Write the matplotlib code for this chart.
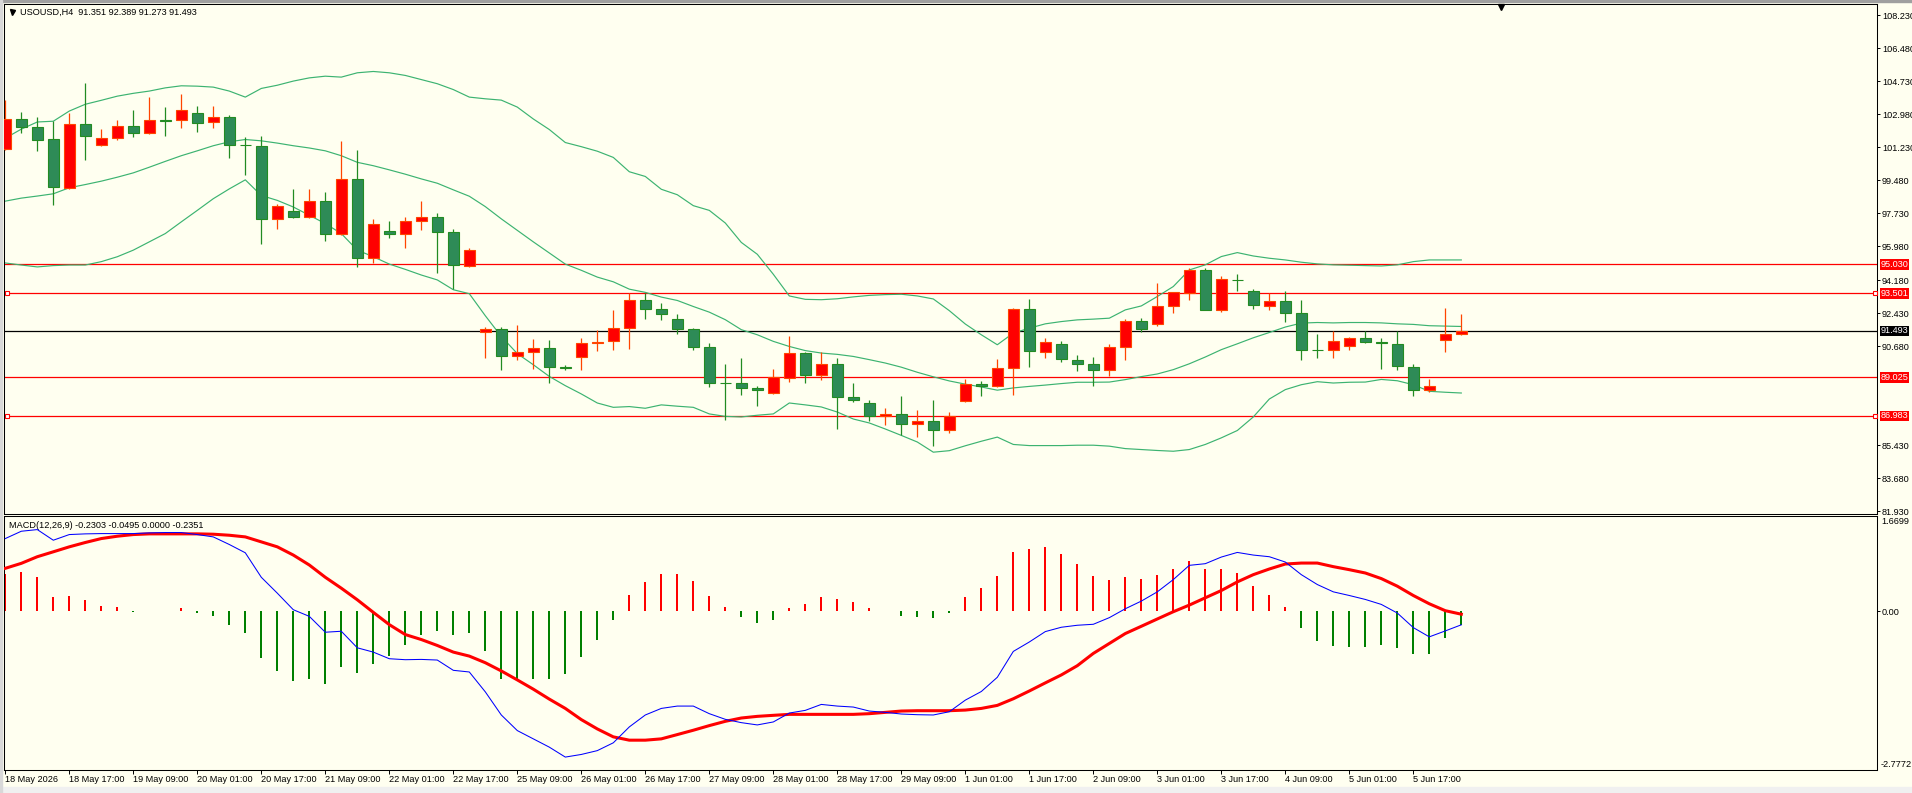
"""USOUSD H4 chart with Bollinger Bands and MACD, drawn in MetaTrader style."""

import matplotlib
matplotlib.use('Agg')
import matplotlib.pyplot as plt
from matplotlib.patches import Rectangle
from matplotlib.transforms import blended_transform_factory

# H4 bars, index 0 = 18 May 2026 01:00
opens = [101.14, 102.72, 102.30, 101.67, 99.07, 102.46, 101.35, 101.72, 102.36, 101.99,
         102.67, 102.67, 103.04, 102.57, 102.83, 101.37, 101.30, 97.43, 97.87, 97.54,
         98.40, 96.64, 99.53, 95.38, 96.82, 96.66, 97.35, 97.52, 96.75, 94.95,
         91.43, 91.59, 90.16, 90.37, 90.59, 89.58, 90.11, 90.85, 90.96, 91.63,
         93.13, 92.65, 92.12, 91.59, 90.64, 88.75, 88.73, 88.48, 88.20, 88.98,
         90.32, 89.14, 89.74, 88.01, 87.67, 87.00, 87.10, 86.56, 86.72, 86.22,
         87.78, 88.68, 88.55, 89.53, 92.65, 90.35, 90.79, 89.95, 89.74, 89.40,
         90.64, 92.01, 91.85, 92.81, 93.53, 94.71, 92.63, 94.22, 93.60, 92.79,
         93.07, 92.44, 90.50, 90.46, 90.72, 91.11, 90.90, 90.79, 89.59, 88.36,
         91.01, 91.351]
highs = [103.73, 103.11, 102.85, 102.64, 103.08, 104.64, 102.20, 102.69, 103.22, 103.90,
         103.37, 104.06, 103.43, 103.43, 102.95, 101.78, 101.83, 98.24, 99.00, 99.00,
         98.88, 101.58, 101.11, 97.45, 97.31, 97.54, 98.37, 97.77, 96.90, 95.90,
         91.70, 91.70, 91.82, 91.08, 91.03, 89.69, 91.13, 91.56, 92.62, 93.50,
         93.50, 92.99, 92.39, 91.65, 90.85, 89.76, 90.07, 88.57, 89.49, 91.24,
         90.37, 90.39, 90.06, 88.75, 87.83, 87.42, 88.06, 87.32, 87.85, 87.21,
         88.96, 88.86, 90.02, 92.70, 93.19, 91.13, 90.97, 90.23, 90.12, 90.80,
         92.14, 92.19, 94.04, 93.58, 94.82, 94.82, 94.40, 94.52, 93.72, 93.48,
         93.62, 93.14, 91.34, 91.50, 91.15, 91.50, 91.13, 91.50, 89.75, 88.96,
         92.72, 92.389]
lows = [101.09, 101.97, 101.02, 98.15, 99.03, 100.56, 101.28, 101.62, 101.76, 101.93,
        101.81, 102.28, 102.07, 102.28, 100.65, 99.79, 96.12, 96.89, 97.49, 97.49,
        96.26, 96.60, 94.90, 95.10, 96.41, 95.89, 96.84, 94.55, 93.70, 94.90,
        90.04, 89.40, 89.97, 89.49, 88.71, 89.40, 89.44, 90.41, 90.46, 90.52,
        92.11, 92.05, 91.33, 90.48, 88.52, 86.77, 88.08, 87.50, 88.15, 88.77,
        88.71, 88.87, 86.28, 87.71, 86.70, 86.49, 85.96, 85.85, 85.38, 86.06,
        87.70, 88.03, 88.50, 88.08, 89.56, 90.04, 89.82, 89.35, 88.55, 89.08,
        89.93, 91.43, 91.73, 92.47, 93.14, 92.60, 92.52, 93.62, 92.67, 92.61,
        91.98, 89.97, 90.07, 90.07, 90.46, 90.85, 89.45, 89.40, 88.02, 88.24,
        90.35, 91.273]
closes = [102.72, 102.29, 101.65, 99.12, 102.46, 101.81, 101.72, 102.36, 101.99, 102.67,
          102.65, 103.20, 102.55, 102.83, 101.34, 101.34, 97.43, 98.10, 97.54, 98.40,
          96.64, 99.58, 95.38, 97.19, 96.64, 97.35, 97.52, 96.75, 95.00, 95.80,
          91.59, 90.14, 90.39, 90.59, 89.56, 89.53, 90.85, 90.92, 91.65, 93.13,
          92.65, 92.39, 91.58, 90.62, 88.73, 88.71, 88.47, 88.36, 89.03, 90.32,
          89.14, 89.74, 87.97, 87.81, 87.00, 87.09, 86.56, 86.72, 86.22, 86.97,
          88.68, 88.55, 89.54, 92.65, 90.41, 90.90, 90.00, 89.72, 89.40, 90.64,
          92.01, 91.62, 92.81, 93.55, 94.71, 92.63, 94.24, 94.18, 92.86, 93.07,
          92.42, 90.46, 90.46, 90.97, 91.11, 90.88, 90.85, 89.61, 88.36, 88.57,
          91.32, 91.493]

# Bollinger Bands
bb_upper = [101.72, 102.20, 102.58, 102.62, 103.16, 103.52, 103.73, 103.95, 104.10, 104.22,
            104.39, 104.50, 104.48, 104.43, 104.22, 103.90, 104.36, 104.53, 104.75, 104.92,
            105.01, 104.96, 105.19, 105.26, 105.19, 105.05, 104.83, 104.61, 104.30, 103.90,
            103.81, 103.74, 103.37, 102.74, 102.18, 101.49, 101.27, 101.03, 100.70, 99.94,
            99.69, 99.01, 98.72, 98.14, 97.89, 97.22, 96.19, 95.56, 94.50, 93.35,
            93.17, 93.15, 93.20, 93.30, 93.38, 93.42, 93.44, 93.35, 93.19, 92.57,
            91.86, 91.29, 90.76, 91.38, 91.64, 91.87, 91.99, 92.08, 92.12, 92.17,
            92.61, 92.82, 93.32, 93.85, 94.73, 95.00, 95.44, 95.65, 95.47, 95.35,
            95.26, 95.14, 95.05, 95.00, 94.98, 94.96, 94.94, 95.00, 95.17, 95.26,
            95.26, 95.26]
bb_middle = [98.38, 98.54, 98.65, 98.77, 99.09, 99.26, 99.44, 99.65, 99.88, 100.18,
             100.49, 100.79, 101.05, 101.32, 101.53, 101.65, 101.58, 101.46, 101.32, 101.20,
             101.05, 100.79, 100.44, 100.26, 100.04, 99.81, 99.56, 99.33, 98.98, 98.64,
             98.09, 97.44, 96.83, 96.22, 95.63, 95.04, 94.71, 94.35, 94.10, 93.71,
             93.54, 93.29, 93.11, 92.79, 92.49, 92.09, 91.56, 91.29, 90.94, 90.67,
             90.45, 90.32, 90.25, 90.14, 89.97, 89.79, 89.57, 89.30, 89.06, 88.84,
             88.67, 88.52, 88.35, 88.47, 88.55, 88.62, 88.70, 88.77, 88.77, 88.78,
             88.91, 89.07, 89.21, 89.44, 89.75, 90.11, 90.50, 90.81, 91.13, 91.41,
             91.70, 91.91, 91.94, 91.92, 91.94, 91.94, 91.92, 91.87, 91.84, 91.77,
             91.75, 91.73]
bb_lower = [95.10, 94.99, 94.89, 94.96, 94.99, 94.99, 95.17, 95.43, 95.78, 96.22,
            96.66, 97.28, 97.89, 98.51, 99.03, 99.51, 98.68, 98.42, 98.07, 97.63,
            97.19, 96.66, 95.78, 95.43, 95.04, 94.76, 94.46, 94.20, 93.68, 93.47,
            92.30, 91.20, 90.29, 89.70, 89.08, 88.59, 88.15, 87.67, 87.44, 87.48,
            87.39, 87.57, 87.50, 87.44, 87.09, 86.96, 86.93, 87.02, 87.09, 87.67,
            87.57, 87.46, 87.19, 86.82, 86.61, 86.29, 85.95, 85.60, 85.06, 85.14,
            85.40, 85.64, 85.86, 85.47, 85.41, 85.41, 85.41, 85.43, 85.43, 85.38,
            85.25, 85.20, 85.15, 85.11, 85.20, 85.47, 85.82, 86.21, 86.93, 87.88,
            88.38, 88.64, 88.80, 88.73, 88.77, 88.78, 88.92, 88.85, 88.64, 88.29,
            88.24, 88.20]

# MACD(12,26,9)
macd_hist = [0.655, 0.696, 0.609, 0.243, 0.261, 0.191, 0.099, 0.070, -0.010, 0.005,
             0.012, 0.052, -0.035, -0.087, -0.243, -0.383, -0.817, -1.043, -1.217, -1.183,
             -1.264, -0.974, -1.078, -0.922, -0.783, -0.591, -0.417, -0.348, -0.417, -0.383,
             -0.696, -1.183, -1.183, -1.183, -1.183, -1.096, -0.797, -0.504, -0.157, 0.278,
             0.522, 0.661, 0.661, 0.539, 0.261, 0.070, -0.104, -0.203, -0.157, 0.052,
             0.122, 0.243, 0.209, 0.157, 0.052, 0.010, -0.081, -0.099, -0.116, -0.035,
             0.243, 0.417, 0.626, 1.043, 1.096, 1.130, 1.009, 0.835, 0.626, 0.557,
             0.609, 0.574, 0.643, 0.748, 0.887, 0.748, 0.748, 0.678, 0.452, 0.278,
             0.070, -0.290, -0.516, -0.603, -0.620, -0.620, -0.586, -0.638, -0.742, -0.742,
             -0.464, -0.2303]
macd_main = [1.275, 1.403, 1.432, 1.246, 1.345, 1.357, 1.362, 1.362, 1.362, 1.374,
             1.380, 1.380, 1.345, 1.304, 1.171, 1.026, 0.597, 0.319, 0.029, -0.087,
             -0.365, -0.348, -0.638, -0.713, -0.829, -0.846, -0.841, -0.852, -1.032, -1.061,
             -1.409, -1.814, -2.087, -2.232, -2.377, -2.551, -2.505, -2.438, -2.301, -2.023,
             -1.814, -1.699, -1.658, -1.658, -1.791, -1.890, -1.948, -1.988, -1.936, -1.780,
             -1.733, -1.629, -1.658, -1.675, -1.745, -1.768, -1.797, -1.809, -1.814, -1.757,
             -1.554, -1.403, -1.154, -0.701, -0.536, -0.354, -0.278, -0.243, -0.226, -0.110,
             0.046, 0.180, 0.342, 0.557, 0.806, 0.835, 0.951, 1.032, 0.986, 0.957,
             0.864, 0.643, 0.470, 0.342, 0.278, 0.209, 0.122, -0.029, -0.284, -0.446,
             -0.342, -0.2351]
macd_signal = [0.754, 0.841, 0.957, 1.043, 1.130, 1.206, 1.275, 1.316, 1.345, 1.357,
               1.357, 1.357, 1.357, 1.351, 1.333, 1.304, 1.217, 1.130, 0.986, 0.812,
               0.597, 0.406, 0.203, -0.017, -0.232, -0.406, -0.493, -0.597, -0.713, -0.783,
               -0.899, -1.043, -1.200, -1.362, -1.536, -1.699, -1.895, -2.058, -2.197, -2.255,
               -2.255, -2.232, -2.157, -2.081, -2.000, -1.925, -1.867, -1.838, -1.820, -1.803,
               -1.803, -1.803, -1.803, -1.803, -1.791, -1.768, -1.745, -1.739, -1.739, -1.739,
               -1.728, -1.699, -1.646, -1.530, -1.394, -1.252, -1.113, -0.951, -0.736, -0.562,
               -0.388, -0.261, -0.133, -0.006, 0.110, 0.238, 0.365, 0.516, 0.643, 0.742,
               0.829, 0.846, 0.846, 0.783, 0.730, 0.672, 0.574, 0.441, 0.278, 0.133,
               0.012, -0.0495]

time_labels = ['18 May 2026', '18 May 17:00', '19 May 09:00', '20 May 01:00', '20 May 17:00',
               '21 May 09:00', '22 May 01:00', '22 May 17:00', '25 May 09:00', '26 May 01:00',
               '26 May 17:00', '27 May 09:00', '28 May 01:00', '28 May 17:00', '29 May 09:00',
               '1 Jun 01:00', '1 Jun 17:00', '2 Jun 09:00', '3 Jun 01:00', '3 Jun 17:00',
               '4 Jun 09:00', '5 Jun 01:00', '5 Jun 17:00']
price_ticks = [108.23, 106.48, 104.73, 102.98, 101.23, 99.48, 97.73, 95.98,
               94.18, 92.43, 90.68, 85.43, 83.68, 81.93]
level_prices = [95.030, 93.501, 89.025, 86.983]
marked_levels = [93.501, 86.983]
last_price = 91.493
header = 'USOUSD,H4  91.351 92.389 91.273 91.493'
macd_header = 'MACD(12,26,9) -0.2303 -0.0495 0.0000 -0.2351'

COLORS = {
    "bg": "#FFFFF0",
    "bull_fill": "#FF0000",
    "bull_edge": "#FF4500",
    "bear_fill": "#2E8B57",
    "bear_edge": "#228B22",
    "bands": "#3CB371",
    "level": "#FF0000",
    "hist_up": "#FF0000",
    "hist_down": "#008000",
    "main": "#0000FF",
    "signal": "#FF0000",
}

W, H, DPI = 1912, 793, 100
FS = 6.6
plt.rcParams['font.family'] = ['Liberation Sans', 'DejaVu Sans']


def px_rect(left, top, right, bottom):
    return [left / W, 1 - bottom / H, (right - left) / W, (bottom - top) / H]


fig = plt.figure(figsize=(W / DPI, H / DPI), dpi=DPI, facecolor=COLORS["bg"])
ax = fig.add_axes(px_rect(4, 4, 1877, 514))
ax_m = fig.add_axes(px_rect(4, 516, 1877, 770), sharex=ax)

# window frame bits
fig.patches.append(Rectangle((0, 1 - 2 / H), 1, 2 / H, transform=fig.transFigure,
                             color='#A0A0A0', zorder=0))
fig.patches.append(Rectangle((0, 0), 1, 6 / H, transform=fig.transFigure,
                             color='#F0F0F0', zorder=0))
fig.patches.append(Rectangle((0, 0), 2 / W, 1, transform=fig.transFigure,
                             color='#D8D8D8', zorder=0))

n = len(closes)
x = list(range(n))

for a in (ax, ax_m):
    a.set_facecolor(COLORS["bg"])
    for sp in a.spines.values():
        sp.set_linewidth(0.75)
        sp.set_color('black')
ax.set_xlim(-0.081, 116.98)

# ---- price pane ----
bull = [c >= o for o, c in zip(opens, closes)]
edge = [COLORS["bull_edge"] if b else COLORS["bear_edge"] for b in bull]
fill = [COLORS["bull_fill"] if b else COLORS["bear_fill"] for b in bull]
ax.vlines(x, lows, highs, colors=edge, linewidth=0.9, zorder=3)
bottoms = [min(o, c) for o, c in zip(opens, closes)]
heights = [max(abs(c - o), 0.02) for o, c in zip(opens, closes)]
ax.bar(x, heights, bottom=bottoms, width=0.66, color=fill, edgecolor=edge,
       linewidth=0.8, zorder=4)

for band in (bb_upper, bb_middle, bb_lower):
    ax.plot(x, band, color=COLORS["bands"], linewidth=0.85, zorder=2)

for p in level_prices:
    ax.axhline(p, color=COLORS["level"], linewidth=0.9, zorder=1)
ax.axhline(last_price, color='black', linewidth=0.9, zorder=1)

mark_tr = blended_transform_factory(fig.transFigure, ax.transData)
for p in marked_levels:
    ax.plot([7.3 / W, 1874.5 / W], [p, p], linestyle='none', marker='s', markersize=3.4,
            mfc='white', mec=COLORS["level"], mew=0.8, transform=mark_tr,
            clip_on=False, zorder=6)

ax.set_ylim(81.78, 108.84)
ax.yaxis.tick_right()
ax.set_yticks(price_ticks)
ax.set_yticklabels([f'{v:.3f}' for v in price_ticks])
ax.tick_params(axis='y', direction='out', length=2.2, width=0.7, pad=1.4,
               labelsize=FS, colors='black')
ax.tick_params(axis='x', length=0, labelbottom=False)

for p in level_prices + [last_price]:
    bg = 'black' if p == last_price else COLORS["level"]
    ax.annotate(f'{p:.3f}', xy=(1, p), xycoords=('axes fraction', 'data'),
                xytext=(3.5, 0), textcoords='offset pixels', ha='left', va='center',
                color='white', fontsize=FS, annotation_clip=False, zorder=7,
                bbox=dict(boxstyle='square,pad=0.1', fc=bg, ec='none'))

fig.text(20 / W, 1 - 12.7 / H, header, fontsize=FS, va='center', ha='left')
ax.plot([11.8 / W], [1 - 12.4 / H], marker='v', color='black', markersize=3.6,
        transform=fig.transFigure, clip_on=False)
ax.plot([1501 / W], [1 - 6.5 / H], marker='v', color='black', markersize=5,
        transform=fig.transFigure, clip_on=False)

# ---- MACD pane ----
hist_colors = [COLORS["hist_up"] if v >= 0 else COLORS["hist_down"] for v in macd_hist]
ax_m.bar(x, macd_hist, width=0.14, color=hist_colors, linewidth=0, zorder=2)
ax_m.plot(x, macd_signal, color=COLORS["signal"], linewidth=2.2, zorder=3)
ax_m.plot(x, macd_main, color=COLORS["main"], linewidth=0.75, zorder=4)
ax_m.set_ylim(-2.7772, 1.6699)
ax_m.yaxis.tick_right()
ax_m.set_yticks([0])
ax_m.set_yticklabels(['0.00'])
ax_m.tick_params(axis='y', direction='out', length=2.2, width=0.7, pad=1.4,
                 labelsize=FS, colors='black')
ax_m.annotate('1.6699', xy=(1, 1), xycoords='axes fraction', xytext=(4, -1),
              textcoords='offset pixels', fontsize=FS, ha='left', va='top',
              annotation_clip=False)
ax_m.annotate('-2.7772', xy=(1, 0), xycoords='axes fraction', xytext=(4, 1),
              textcoords='offset pixels', fontsize=FS, ha='left', va='bottom',
              annotation_clip=False)
ax_m.text(5 / 1873, 1 - 9.7 / 254, macd_header, transform=ax_m.transAxes,
          fontsize=FS, ha='left', va='center')

ax_m.set_xticks(x[::4])
ax_m.set_xticklabels(time_labels)
ax_m.tick_params(axis='x', direction='out', length=3, width=0.7, pad=0.5,
                 labelsize=FS, colors='black')
plt.setp(ax_m.get_xticklabels(), ha='left')

fig.savefig('out.png', dpi=DPI, facecolor=COLORS["bg"])
plt.close(fig)
